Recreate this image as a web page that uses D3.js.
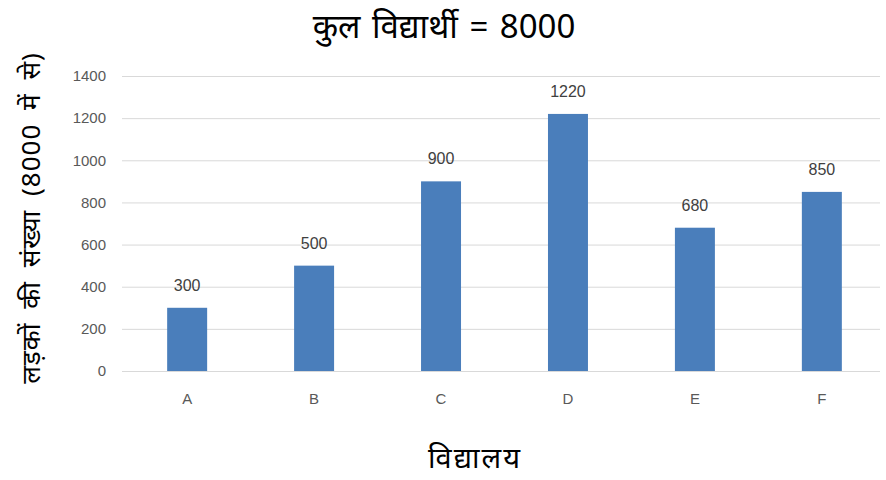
<!DOCTYPE html>
<html>
<head>
<meta charset="utf-8">
<script src="https://cdn.jsdelivr.net/npm/d3@7"></script>
<style>
  body { margin: 0; background: #fff; }
  svg { display: block; }
</style>
</head>
<body>
<div id="chart"></div>
<script>
// chart data
var schools = ["A", "B", "C", "D", "E", "F"];
var boys = [300, 500, 900, 1220, 680, 850];
var yTicks = [0, 200, 400, 600, 800, 1000, 1200, 1400];

var width = 886, height = 480;
var svg = d3.select("#chart")
        .append("svg")
        .attr("width", width)
        .attr("height", height);

var x = d3.scaleBand()
        .domain(schools)
        .range([124, 885])
        .paddingInner(0.685)
        .paddingOuter(0.34);
var y = d3.scaleLinear()
        .domain([0, 1400])
        .range([371, 76]);

// gridlines
svg.append("g")
        .selectAll("line")
        .data(yTicks)
        .enter()
        .append("line")
        .attr("x1", 122)
        .attr("x2", 880)
        .attr("y1", function (d) { return y(d) + 0.5; })
        .attr("y2", function (d) { return y(d) + 0.5; })
        .attr("stroke", "#d9d9d9")
        .attr("stroke-width", 1);

// y axis tick labels
var yAxis = d3.axisLeft(y).tickValues(yTicks).tickFormat(d3.format("d"))
        .tickSize(0).tickPadding(6);
var gy = svg.append("g")
        .attr("transform", "translate(112,0)")
        .call(yAxis);
gy.select(".domain").remove();
gy.selectAll("text")
        .attr("fill", "#595959")
        .style("font-family", "'Liberation Sans', Arial, sans-serif")
        .style("font-size", "15px");

// bars
svg.append("g")
        .selectAll("rect")
        .data(boys)
        .enter()
        .append("rect")
        .attr("x", function (d, i) { return x(schools[i]); })
        .attr("y", function (d) { return y(d); })
        .attr("width", x.bandwidth())
        .attr("height", function (d) { return y(0) - y(d); })
        .attr("fill", "#4a7ebb");

// value labels
svg.append("g")
        .selectAll("text")
        .data(boys)
        .enter()
        .append("text")
        .attr("x", function (d, i) { return x(schools[i]) + x.bandwidth() / 2; })
        .attr("y", function (d) { return y(d) - 17; })
        .attr("text-anchor", "middle")
        .attr("fill", "#404040")
        .style("font-family", "'Liberation Sans', Arial, sans-serif")
        .style("font-size", "16px")
        .text(function (d) { return d; });

// x axis labels
var xAxis = d3.axisBottom(x).tickSize(0).tickPadding(22);
var gx = svg.append("g")
        .attr("transform", "translate(0,371)")
        .call(xAxis);
gx.select(".domain")
        .attr("stroke", "#d9d9d9")
        .attr("d", "M122,0.5H880");
gx.selectAll("text")
        .attr("fill", "#595959")
        .style("font-family", "'Liberation Sans', Arial, sans-serif")
        .style("font-size", "15px");

// title
svg.append("text")
        .attr("x", 444)
        .attr("y", 38)
        .attr("text-anchor", "middle")
        .attr("fill", "#000")
        .style("font-family", "'Noto Sans', 'Liberation Serif', serif")
        .style("font-size", "33px")
        .style("word-spacing", "3px")
        .text("कुल  विद्यार्थी = 8000");

// axis titles
svg.append("text")
        .attr("x", 475)
        .attr("y", 468)
        .attr("text-anchor", "middle")
        .attr("fill", "#000")
        .style("font-family", "'Noto Sans', sans-serif")
        .style("font-size", "29px")
        .style("letter-spacing", "2px")
        .text("विद्यालय");

svg.append("text")
        .attr("transform", "translate(40,218) rotate(-90)")
        .attr("text-anchor", "middle")
        .attr("fill", "#000")
        .style("font-family", "'Noto Sans', sans-serif")
        .style("font-size", "26px")
        .style("word-spacing", "6px")
        .style("letter-spacing", "1px")
        .text("लड़कों की संख्या (8000 में से)");
</script>
</body>
</html>
